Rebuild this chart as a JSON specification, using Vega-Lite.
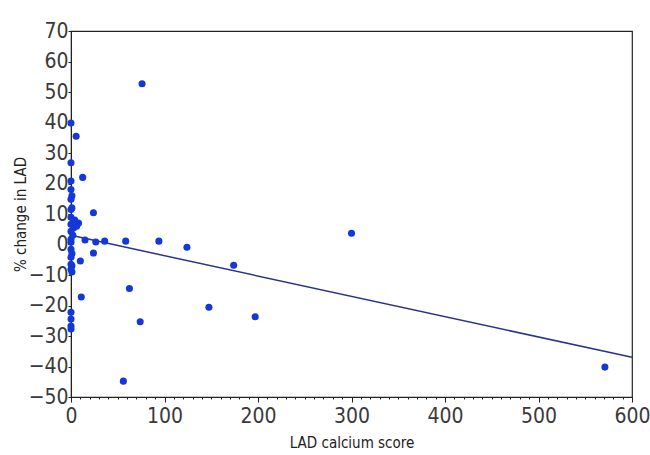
{
  "$schema": "https://vega.github.io/schema/vega-lite/v6.json",
  "width": 561,
  "height": 366,
  "autosize": {"type": "none"},
  "padding": {"left": 71, "top": 31, "right": 18, "bottom": 58},
  "background": "white",
  "config": {
    "view": {"stroke": "#222", "strokeWidth": 1.2},
    "axis": {
      "grid": false,
      "domainColor": "#222",
      "tickColor": "#222",
      "labelColor": "#3a3a3a",
      "titleColor": "#222",
      "labelFont": "DejaVu Sans Condensed, Liberation Sans Narrow, sans-serif",
      "titleFont": "DejaVu Sans Condensed, Liberation Sans Narrow, sans-serif",
      "titleFontWeight": "normal"
    }
  },
  "datasets": {
    "pts": [
      {"score": 0, "change": 39.8}, {"score": 0, "change": 26.8}, {"score": 0, "change": 20.8},
      {"score": 0, "change": 18}, {"score": 0, "change": 14.8}, {"score": 0, "change": 11.5},
      {"score": 0, "change": 8.9}, {"score": 0, "change": 6.6}, {"score": 0, "change": 4.3},
      {"score": 0, "change": 1.7}, {"score": 0, "change": 0.7}, {"score": 0, "change": -1.6},
      {"score": 0, "change": -4.2}, {"score": 0, "change": -6.5}, {"score": 0, "change": -8.1},
      {"score": 0, "change": -22.2}, {"score": 0, "change": -24.4}, {"score": 0, "change": -26.7},
      {"score": 0, "change": -27.7},
      {"score": 1, "change": 16}, {"score": 1, "change": 12}, {"score": 2, "change": 3},
      {"score": 1, "change": -3}, {"score": 1, "change": -7}, {"score": 1, "change": -9},
      {"score": 5.5, "change": 35.5}, {"score": 12.5, "change": 22}, {"score": 24, "change": 10.4},
      {"score": 4, "change": 8}, {"score": 6, "change": 6}, {"score": 3, "change": 5.5},
      {"score": 8, "change": 7}, {"score": 15, "change": 1.5}, {"score": 26.5, "change": 0.8},
      {"score": 36, "change": 1.1}, {"score": 58.5, "change": 1.1}, {"score": 94, "change": 1.1},
      {"score": 124, "change": -0.9}, {"score": 174, "change": -6.8}, {"score": 300, "change": 3.7},
      {"score": 24, "change": -2.8}, {"score": 10, "change": -5.4}, {"score": 11, "change": -17.2},
      {"score": 62.5, "change": -14.4}, {"score": 74, "change": -25.3}, {"score": 147.5, "change": -20.6},
      {"score": 197, "change": -23.7}, {"score": 56, "change": -44.8}, {"score": 571, "change": -40.2},
      {"score": 76, "change": 52.7}
    ],
    "fit": [
      {"score": 0, "change": 3},
      {"score": 600, "change": -37}
    ]
  },
  "encoding": {
    "x": {
      "field": "score", "type": "quantitative",
      "scale": {"domain": [0, 600], "nice": false, "zero": false},
      "axis": {
        "title": "LAD calcium score",
        "titleFontSize": 15,
        "titlePadding": 9,
        "values": [0,10,20,30,40,50,60,70,80,90,100,110,120,130,140,150,160,170,180,190,200,210,220,230,240,250,260,270,280,290,300,310,320,330,340,350,360,370,380,390,400,410,420,430,440,450,460,470,480,490,500,510,520,530,540,550,560,570,580,590,600],
        "labelExpr": "datum.value % 100 === 0 ? datum.label : ''",
        "tickSize": {"condition": {"test": "datum.value % 100 === 0", "value": 5}, "value": 2},
        "labelFontSize": 21,
        "labelPadding": 3,
        "labelFlush": false,
        "labelOverlap": false
      }
    },
    "y": {
      "field": "change", "type": "quantitative",
      "scale": {"domain": [-50, 70], "nice": false, "zero": false},
      "axis": {
        "title": "% change in LAD",
        "titleFontSize": 15,
        "titlePadding": 0,
        "values": [-50,-40,-30,-20,-10,0,10,20,30,40,50,60,70],
        "tickSize": 3,
        "labelFontSize": 21,
        "labelPadding": 0,
        "labelFlush": false,
        "labelOverlap": false
      }
    }
  },
  "layer": [
    {
      "data": {"name": "fit"},
      "mark": {"type": "line", "color": "#2b3585", "strokeWidth": 1.5}
    },
    {
      "data": {"name": "pts"},
      "mark": {"type": "point", "filled": true, "shape": "circle", "size": 50, "color": "#1438d8", "opacity": 1}
    }
  ]
}
